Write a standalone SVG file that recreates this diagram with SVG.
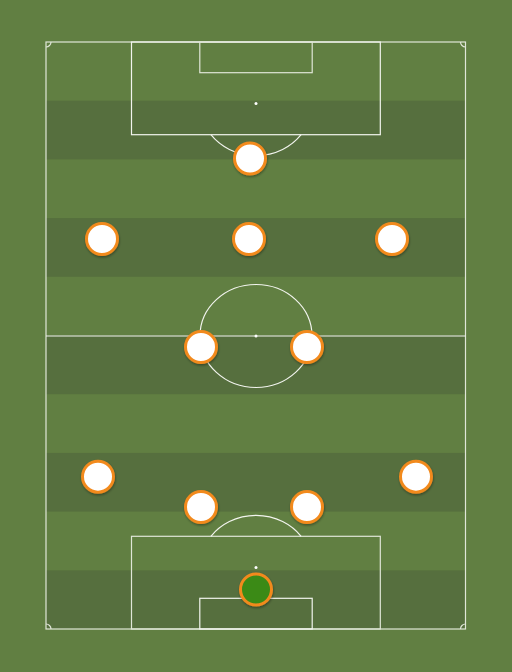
<svg xmlns="http://www.w3.org/2000/svg" width="512" height="672" viewBox="0 0 512 672">
<style>
.ln{fill:none;stroke:#f2f4ee;stroke-width:1.2}
.lo{fill:none;stroke:#e0e6d8;stroke-width:1.2}
.spot{fill:#ffffff}
.pl{fill:#ffffff;stroke:#f28a1e;stroke-width:3}
.gk{fill:#3a8a18;stroke:#f28a1e;stroke-width:3}
.stripe{fill:#566f3e}
</style>
<defs>
<filter id="sh" x="-30%" y="-30%" width="160%" height="160%">
<feDropShadow dx="0.5" dy="1.5" stdDeviation="1" flood-color="#000" flood-opacity="0.35"/>
</filter>
</defs>
<rect width="512" height="672" fill="#617f42"/>
<g id="pitch">
<rect class="stripe" x="46" y="100.7" width="419.5" height="58.7"/>
<rect class="stripe" x="46" y="218.1" width="419.5" height="58.7"/>
<rect class="stripe" x="46" y="335.5" width="419.5" height="58.7"/>
<rect class="stripe" x="46" y="452.9" width="419.5" height="58.7"/>
<rect class="stripe" x="46" y="570.3" width="419.5" height="58.7"/>
<rect class="lo" x="46" y="42" width="419.5" height="587"/>
<line class="ln" x1="46" y1="336" x2="465.5" y2="336"/>
<ellipse class="ln" cx="256" cy="336" rx="56" ry="51.5"/>
<circle class="spot" cx="256" cy="336" r="1.5"/>
<rect class="ln" x="131.5" y="42" width="248.8" height="92.7"/>
<rect class="lo" x="199.8" y="42" width="112.4" height="30.7"/>
<circle class="spot" cx="256" cy="103.6" r="1.5"/>
<path class="ln" d="M210.9 134.7 A56 51.5 0 0 0 301.1 134.7"/>
<rect class="lo" x="131.5" y="536.3" width="248.8" height="92.7"/>
<rect class="ln" x="199.8" y="598.3" width="112.4" height="30.7"/>
<circle class="spot" cx="256" cy="567.4" r="1.5"/>
<path class="ln" d="M210.9 536.3 A56 51.5 0 0 1 301.1 536.3"/>
<path class="lo" d="M46 47 A5 5 0 0 0 51 42 M460.5 42 A5 5 0 0 0 465.5 47 M46 624 A5 5 0 0 1 51 629 M460.5 629 A5 5 0 0 1 465.5 624"/>
</g>
<g id="connectors"></g>
<g filter="url(#sh)">
<g id="p1"><circle class="pl" cx="250" cy="158.5" r="15.5"/></g>
<g id="p2"><circle class="pl" cx="102" cy="239" r="15.5"/></g>
<g id="p3"><circle class="pl" cx="249" cy="239" r="15.5"/></g>
<g id="p4"><circle class="pl" cx="392" cy="239" r="15.5"/></g>
<g id="p5"><circle class="pl" cx="201" cy="347" r="15.5"/></g>
<g id="p6"><circle class="pl" cx="307" cy="347" r="15.5"/></g>
<g id="p7"><circle class="pl" cx="98" cy="476.7" r="15.5"/></g>
<g id="p8"><circle class="pl" cx="416" cy="476.7" r="15.5"/></g>
<g id="p9"><circle class="pl" cx="201" cy="507" r="15.5"/></g>
<g id="p10"><circle class="pl" cx="307" cy="507" r="15.5"/></g>
<g id="gk"><circle class="gk" cx="256" cy="589.5" r="15.5"/></g>
</g>
</svg>
